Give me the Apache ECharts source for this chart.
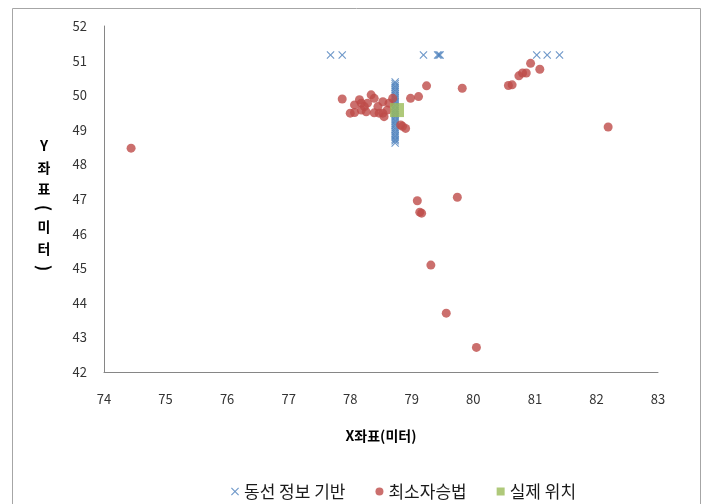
<!DOCTYPE html>
<html>
<head>
<meta charset="utf-8">
<script src="https://cdn.jsdelivr.net/npm/echarts@6/dist/echarts.min.js"></script>
<style>
  html, body { margin: 0; padding: 0; background: #fff; }
  #chart { width: 705px; height: 504px; }
</style>
</head>
<body>
<div id="chart"></div>
<script>
// 동선 정보 기반 (x markers)
const routeTop = [[77.68, 51.16], [77.87, 51.16], [79.19, 51.16], [79.42, 51.16], [79.44, 51.16], [79.46, 51.16],
  [81.03, 51.16], [81.2, 51.16], [81.4, 51.16]];
const routeColumnX = 78.73;
const routeColumnY = [48.62, 48.68, 48.73, 48.79, 48.84, 48.9, 48.95, 49.01, 49.06, 49.12, 49.17, 49.23, 49.28,
  49.34, 49.39, 49.45, 49.5, 49.56, 49.61, 49.67, 49.72, 49.78, 49.83, 49.89, 49.94, 50.0, 50.05, 50.11,
  50.16, 50.22, 50.27, 50.33, 50.38];

// 최소자승법 (circles)
const leastSquares = [
  [74.44, 48.47], [82.19, 49.08],
  [77.87, 49.89], [78.07, 49.72], [78.15, 49.87], [78.18, 49.77], [78.23, 49.67], [78.34, 50.01], [78.39, 49.91],
  [78.0, 49.48], [78.07, 49.5], [78.28, 49.77], [78.45, 49.67], [78.53, 49.81], [78.53, 49.48], [78.55, 49.38],
  [78.6, 49.57], [78.63, 49.77], [78.47, 49.48], [78.26, 49.52], [78.39, 49.49], [78.18, 49.57], [78.69, 49.91],
  [78.82, 49.14], [78.9, 49.04], [78.85, 49.1],
  [78.98, 49.91], [79.11, 49.96], [79.24, 50.27], [79.82, 50.2],
  [80.57, 50.28], [80.63, 50.3], [80.74, 50.56], [80.8, 50.64], [80.86, 50.64], [80.93, 50.92], [81.08, 50.75],
  [79.09, 46.95], [79.16, 46.59], [79.13, 46.62], [79.74, 47.05], [79.31, 45.09], [79.56, 43.7], [80.05, 42.71]
];

// 실제 위치
const actual = [[78.76, 49.57]];

const xTicks = { min: 74, max: 83, step: 1 };
const yTicks = { min: 42, max: 52, step: 1 };

const routeData = routeTop.concat(routeColumnY.map(y => [routeColumnX, y]));

const font = '"Noto Sans CJK KR", "Noto Sans", sans-serif';
const xMark = 'path://M0,1L1,0L5,4L9,0L10,1L6,5L10,9L9,10L5,6L1,10L0,9L4,5Z';

// stacked vertical y-axis title, parentheses turned sideways
const yTitle = [['Y', 146, 0], ['좌', 168, 0], ['표', 189, 0], ['(', 208, 1], ['미', 227, 0], ['터', 249, 0], [')', 268, 1]];
const yTitleEls = yTitle.map(([ch, y, rot]) => ({
  type: 'text', x: 44, y: y, rotation: rot ? -Math.PI / 2 : 0,
  style: {
    text: ch, fontFamily: font, fontSize: rot ? 17 : 14, fontWeight: 'bold',
    align: 'center', verticalAlign: 'middle', fill: '#000'
  }
}));

const chart = echarts.init(document.getElementById('chart'));
chart.setOption({
  animation: false,
  textStyle: { fontFamily: font },
  grid: { left: 104, right: 47, top: 26, bottom: 132 },
  graphic: [
    {
      type: 'rect',
      shape: { x: 12.5, y: 8.5, width: 688, height: 500 },
      style: { fill: 'none', stroke: '#a6a6a6', lineWidth: 1 }
    }
  ].concat(yTitleEls),
  legend: {
    left: 226, bottom: -1,
    itemWidth: 8, itemHeight: 8, itemGap: 30,
    textStyle: { fontSize: 17, color: '#1a1a1a', fontFamily: font, padding: [0, 0, 0, 0] },
    data: [
      { name: '동선 정보 기반', icon: xMark },
      { name: '최소자승법', icon: 'circle' },
      { name: '실제 위치', icon: 'rect' }
    ]
  },
  xAxis: {
    type: 'value',
    min: xTicks.min, max: xTicks.max, interval: xTicks.step,
    name: 'X좌표(미터)', nameLocation: 'middle', nameGap: 57,
    nameTextStyle: { fontSize: 14, fontWeight: 'bold', color: '#000', fontFamily: font },
    axisLine: { show: true, lineStyle: { color: '#868686' } },
    axisTick: { show: false },
    splitLine: { show: false },
    axisLabel: { margin: 21, fontSize: 13, color: '#333', fontFamily: font }
  },
  yAxis: {
    type: 'value',
    min: yTicks.min, max: yTicks.max, interval: yTicks.step,
    axisLine: { show: true, lineStyle: { color: '#868686' } },
    axisTick: { show: false },
    splitLine: { show: false },
    axisLabel: { margin: 17, fontSize: 13, color: '#333', fontFamily: font }
  },
  series: [
    {
      name: '동선 정보 기반', type: 'scatter', data: routeData,
      symbol: xMark, symbolSize: 8,
      itemStyle: { color: '#4a7ebb' }
    },
    {
      name: '최소자승법', type: 'scatter', data: leastSquares,
      symbol: 'circle', symbolSize: 9,
      itemStyle: { color: '#be4b48' }
    },
    {
      name: '실제 위치', type: 'scatter', data: actual,
      symbol: 'rect', symbolSize: 14,
      itemStyle: { color: '#9bbb59' }
    }
  ]
});
</script>
</body>
</html>
